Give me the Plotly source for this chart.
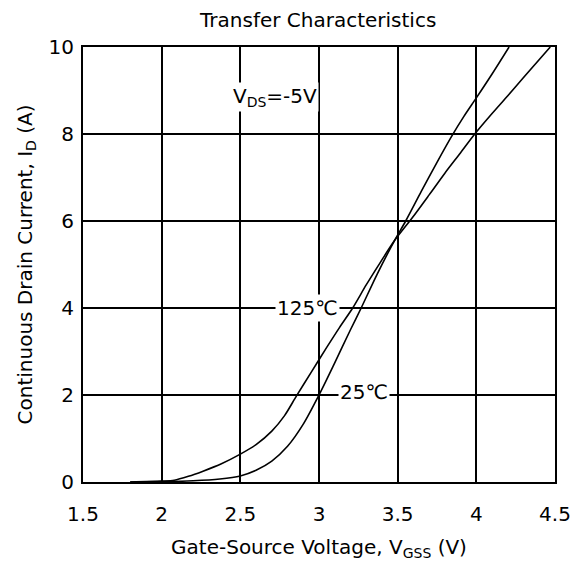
import plotly.graph_objects as go

vgs_25 = [1.8, 2.0, 2.2, 2.37, 2.5, 2.6, 2.7, 2.8, 2.9, 3.0, 3.1, 3.2, 3.268, 3.37, 3.48, 3.551, 3.65, 3.75, 3.84, 3.92, 4.0, 4.1, 4.208]
id_25 = [0.0, 0.01, 0.03, 0.07, 0.14, 0.27, 0.48, 0.82, 1.33, 2.0, 2.74, 3.5, 4.0, 4.78, 5.55, 6.0, 6.68, 7.35, 7.93, 8.4, 8.83, 9.38, 10.0]

vgs_125 = [1.8, 2.0, 2.08, 2.17, 2.263, 2.38, 2.5, 2.6, 2.7, 2.78, 2.857, 2.95, 3.05, 3.13, 3.214, 3.3, 3.39, 3.48, 3.594, 3.7, 3.8, 3.9, 3.99, 4.1, 4.2, 4.3, 4.47]
id_125 = [0.0, 0.02, 0.04, 0.13, 0.25, 0.42, 0.64, 0.86, 1.17, 1.52, 1.98, 2.52, 3.1, 3.55, 4.0, 4.53, 5.05, 5.55, 6.08, 6.6, 7.1, 7.57, 8.0, 8.47, 8.88, 9.3, 10.0]

x_ticks = [1.5, 2, 2.5, 3, 3.5, 4, 4.5]
x_tick_labels = ["1.5", "2", "2.5", "3", "3.5", "4", "4.5"]
y_ticks = [0, 2, 4, 6, 8, 10]

FONT = "DejaVu Sans"

fig = go.Figure()
line_style = dict(color="black", width=1.6, shape="spline", smoothing=0.8)
fig.add_trace(go.Scatter(x=vgs_25, y=id_25, mode="lines", line=line_style, name="25℃"))
fig.add_trace(go.Scatter(x=vgs_125, y=id_125, mode="lines", line=line_style, name="125℃"))

ann_font = dict(family=FONT, size=20, color="black")
fig.add_annotation(x=2.72, y=8.86, text="V<sub>DS</sub>=-5V", showarrow=False, bgcolor="white", font=ann_font, borderpad=1)
fig.add_annotation(x=2.925, y=4.0, text="125℃", showarrow=False, bgcolor="white", font=ann_font, borderpad=1)
fig.add_annotation(x=3.285, y=2.06, text="25℃", showarrow=False, bgcolor="white", font=ann_font, borderpad=1)

fig.update_layout(
    width=564, height=556,
    margin=dict(l=75, r=17, t=39, b=82),
    paper_bgcolor="white", plot_bgcolor="white",
    showlegend=False,
    font=dict(family=FONT, color="black", size=20),
    title=dict(text="Transfer Characteristics", x=0.55, xanchor="center", y=0.979, yanchor="middle",
               font=dict(size=20, family=FONT)),
)
fig.update_xaxes(range=[1.5, 4.5], tickvals=x_ticks, ticktext=x_tick_labels, showgrid=True, gridcolor="black", gridwidth=1.5,
                 showline=True, linecolor="black", linewidth=2, mirror=True, ticks="", zeroline=False, automargin=False,
                 tickfont=dict(size=20, family=FONT), ticklabelstandoff=13,
                 title=dict(text="Gate-Source Voltage, V<sub>GSS</sub> (V)", font=dict(size=20, family=FONT), standoff=15))
fig.update_yaxes(range=[0, 10], tickvals=y_ticks, showgrid=True, gridcolor="black", gridwidth=1.5,
                 showline=True, linecolor="black", linewidth=2, mirror=True, ticks="", zeroline=False, automargin=False,
                 tickfont=dict(size=20, family=FONT), ticklabelstandoff=3,
                 title=dict(text="Continuous Drain Current, I<sub>D</sub> (A)", font=dict(size=20, family=FONT), standoff=11))

fig.write_html("out.html")
